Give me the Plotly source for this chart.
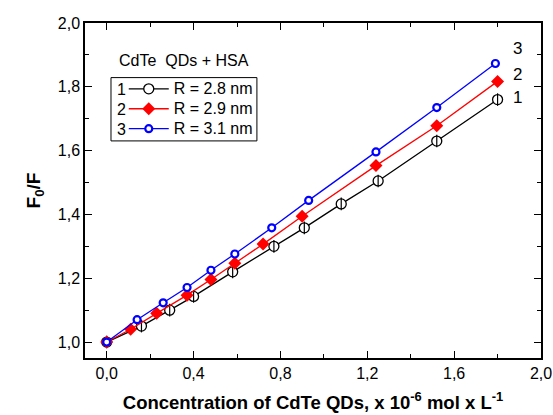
import plotly.graph_objects as go

# Data
x1 = [0, 0.16, 0.29, 0.40, 0.58, 0.77, 0.91, 1.08, 1.25, 1.52, 1.80]
y1 = [1.0, 1.05, 1.10, 1.143, 1.22, 1.30, 1.358, 1.433, 1.505, 1.63, 1.76]
x2 = [0, 0.11, 0.23, 0.37, 0.48, 0.59, 0.72, 0.90, 1.24, 1.52, 1.80]
y2 = [1.0, 1.04, 1.09, 1.147, 1.196, 1.247, 1.307, 1.394, 1.553, 1.678, 1.817]
x3 = [0, 0.14, 0.26, 0.37, 0.48, 0.59, 0.76, 0.93, 1.24, 1.52, 1.79]
y3 = [1.0, 1.07, 1.123, 1.171, 1.225, 1.276, 1.358, 1.444, 1.596, 1.735, 1.873]
names = ["R = 2.8 nm", "R = 2.9 nm", "R = 3.1 nm"]
nums = ["1", "2", "3"]
end_label_y = [1.766, 1.84, 1.919]

FONT = "Arial"


def big(s):
    return '<span style="font-size:16px">' + s + '</span>'


fig = go.Figure()
fig.add_trace(go.Scatter(x=x1, y=y1, mode="lines+markers", name=big(names[0]),
                         line=dict(color="black", width=1.3),
                         marker=dict(symbol="circle", size=10, color="white",
                                     line=dict(color="black", width=1.3))))
fig.add_trace(go.Scatter(x=x1, y=y1, mode="markers", showlegend=False,
                         marker=dict(symbol="line-ns", size=9,
                                     line=dict(color="black", width=1.2))))
fig.add_trace(go.Scatter(x=x2, y=y2, mode="lines+markers", name=big(names[1]),
                         line=dict(color="#ff0000", width=1.3),
                         marker=dict(symbol="diamond", size=10, color="#ff0000",
                                     line=dict(width=0))))
fig.add_trace(go.Scatter(x=x3, y=y3, mode="lines+markers", name=big(names[2]),
                         line=dict(color="#0000ff", width=1.3),
                         marker=dict(symbol="circle", size=7, color="white",
                                     line=dict(color="#0000ff", width=2.2))))

for n, yy in zip(nums, end_label_y):
    fig.add_annotation(x=1.89, y=yy, text=n, showarrow=False, xanchor="center",
                       yanchor="middle", font=dict(size=17, color="black", family=FONT))

fig.add_annotation(xref="paper", yref="paper", x=0.217, y=0.887, text="CdTe&nbsp; QDs + HSA",
                   showarrow=False, xanchor="center", yanchor="middle",
                   font=dict(size=16, color="black", family=FONT))
# legend frame + numbers
fig.add_shape(type="rect", xref="paper", yref="paper", x0=0.057, x1=0.377, y0=0.648, y1=0.837,
              line=dict(color="black", width=1))
for i, n in enumerate(nums):
    fig.add_annotation(xref="paper", yref="paper", x=0.081, y=0.800 - i * 0.0594, text=n,
                       showarrow=False, xanchor="center", yanchor="middle",
                       font=dict(size=16, color="black", family=FONT))

axis_common = dict(showline=True, linecolor="black", linewidth=1.5, mirror="allticks",
                   ticks="inside", ticklen=7, tickwidth=1.3, tickcolor="black",
                   showgrid=False, zeroline=False, automargin=False,
                   tickfont=dict(size=16, color="black", family=FONT))

fig.update_xaxes(range=[-0.1, 2.0], tick0=0, dtick=0.4, tickformat=".1f",
                 minor=dict(ticks="inside", dtick=0.2, ticklen=4, tickcolor="black", tickwidth=1.3),
                 title=dict(text="<b>Concentration of CdTe QDs, x 10<sup>-6</sup> mol x L<sup>-1</sup></b>",
                            font=dict(size=18.5, color="black", family=FONT), standoff=15),
                 **axis_common)
fig.update_yaxes(range=[0.95, 2.0], tick0=1.0, dtick=0.2, tickformat=".1f",
                 minor=dict(ticks="inside", dtick=0.1, ticklen=4, tickcolor="black", tickwidth=1.3),
                 title=dict(text="<b>F<sub>0</sub>/F</b>",
                            font=dict(size=19, color="black", family=FONT), standoff=12),
                 **axis_common)

fig.update_layout(
    width=553, height=415,
    margin=dict(l=85, r=12, t=23, b=57),
    paper_bgcolor="white", plot_bgcolor="white",
    separators=",.",
    showlegend=True,
    legend=dict(x=0.085, y=0.848, xanchor="left", yanchor="top",
                bgcolor="rgba(0,0,0,0)", borderwidth=0, itemwidth=40,
                tracegroupgap=0,
                font=dict(size=13, color="black", family=FONT)),
    font=dict(family=FONT, color="black"),
)

fig.write_html("out.html", config={"displayModeBar": False},
               post_script="document.body.style.margin='0';document.body.style.overflow='hidden';")
